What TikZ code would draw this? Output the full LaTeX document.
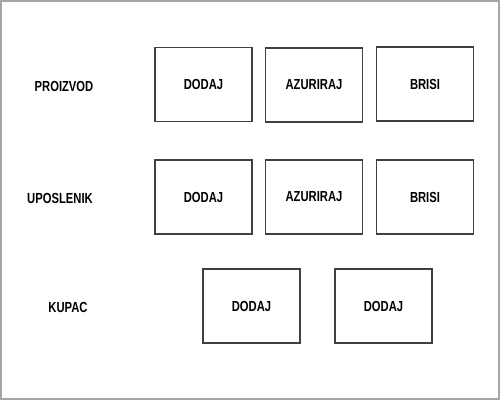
\documentclass[tikz,border=0pt]{standalone}
\usepackage{fontspec}
\usepackage{tikz}
\newfontfamily\skicafont[FakeStretch=0.77]{Liberation Sans}
\tikzset{
	akcija/.style={draw=black!75,line width=0.9pt,minimum width=1.94cm,minimum height=1.48cm,inner sep=0pt,font=\skicafont\bfseries\fontsize{8.3}{10}\selectfont},
	entitet/.style={inner sep=0pt,font=\skicafont\bfseries\fontsize{8.3}{10}\selectfont}
}

\begin{document}
\begin{tikzpicture}[x=0.02cm,y=-0.02cm]
			\useasboundingbox (0,0) rectangle (500,400);
			\draw[black!35,line width=0.8pt] (1,1) rectangle (499,399);
			\node[entitet] (proizvod) at (64,86) {PROIZVOD};
			\node[entitet] (uposlenik) at (60,198) {UPOSLENIK};
			\node[entitet] (kupac) at (68,307) {KUPAC};
			
			\node[akcija] (pdodaj) at (203.5,84.5) {DODAJ};
			\node[akcija] (pazuriraj) at (314,85) {AZURIRAJ};
			\node[akcija] (pbrisi) at (425,84) {BRISI};
			
			\node[akcija] (udodaj) at (203.5,197) {DODAJ};
			\node[akcija] (uazuriraj) at (314,197) {AZURIRAJ};
			\node[akcija] (ubrisi) at (425,197) {BRISI};
			
			\node[akcija] (kdodaj) at (251.5,306) {DODAJ};
			\node[akcija] (kdodajdva) at (383.5,306) {DODAJ};
		\end{tikzpicture}
\end{document}
